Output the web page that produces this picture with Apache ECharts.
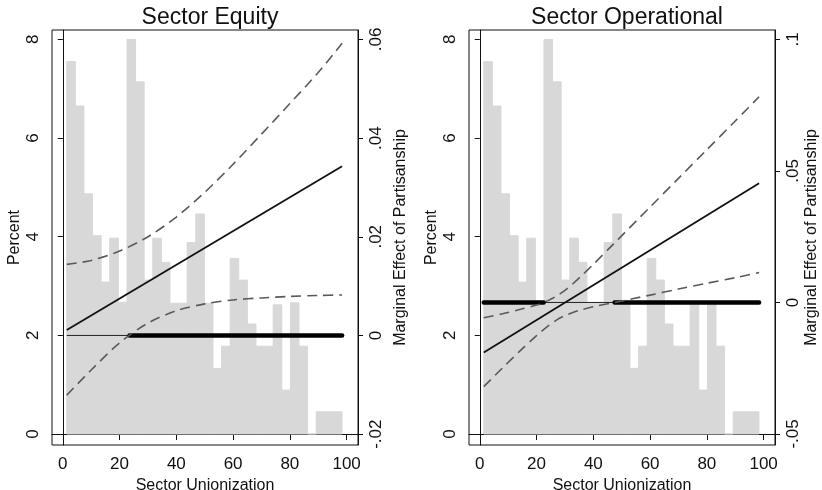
<!DOCTYPE html>
<html>
<head>
<meta charset="utf-8">
<script src="https://cdn.jsdelivr.net/npm/echarts@6/dist/echarts.min.js"></script>
<style>
html,body{margin:0;padding:0;background:#fff;}
#chart{width:822px;height:490px;}
</style>
</head>
<body>
<div id="chart"></div>
<script>
// ---- Data ----
const panelTitles = ['Sector Equity', 'Sector Operational'];
const xTitle = 'Sector Unionization';
const leftTitle = 'Percent';
const rightTitle = 'Marginal Effect of Partisanship';

const xTicks = [0, 20, 40, 60, 80, 100];
const percentTicks = [0, 2, 4, 6, 8];
const equityTicks = [-0.02, 0, 0.02, 0.04, 0.06];
const operationalTicks = [-0.05, 0, 0.05, 0.1];

// Histogram of sector unionization (bin edges and percent per bin)
const binEdges = [1.4, 4.43, 7.46, 10.49, 13.52, 16.55, 19.58, 22.61, 25.64, 28.67, 31.7,
  34.73, 37.76, 40.79, 43.82, 46.85, 49.88, 52.91, 55.94, 58.97, 62.0, 65.03, 68.06,
  71.09, 74.12, 77.15, 80.18, 83.21, 86.24, 89.27, 92.3, 95.33, 98.36];
const binPercent = [7.55, 6.65, 4.87, 4.02, 3.08, 3.97, 2.67, 8.0, 7.14, 3.12, 3.97,
  3.48, 2.65, 2.65, 3.88, 4.46, 2.65, 1.33, 1.78, 3.56, 3.12, 2.23, 1.78, 1.78, 2.62,
  0.89, 2.66, 1.78, 0, 0.45, 0.45, 0.45];

// Sector Equity: marginal effect and 95% CI
const equityEffect = [[1.4, 0.0011], [98.4, 0.0343]];
const equityUpper = [[1.4, 0.0144], [10, 0.0152], [20, 0.0171], [30, 0.0200], [40, 0.0240],
  [50, 0.0290], [60, 0.0347], [70, 0.0408], [80, 0.0470], [90, 0.0533], [98.4, 0.0592]];
const equityLower = [[1.4, -0.0121], [10, -0.0070], [20, -0.0015], [30, 0.0025], [40, 0.0050],
  [50, 0.0064], [60, 0.0072], [70, 0.0076], [80, 0.0079], [90, 0.0081], [98.4, 0.0082]];
const equitySignificant = [[23.5, 98.4]];

// Sector Operational: marginal effect and 95% CI
const operationalEffect = [[1.4, -0.019], [98.4, 0.0453]];
const operationalUpper = [[1.4, -0.0058], [8, -0.0043], [14, -0.0027], [20, -0.0010], [24, 0.0007],
  [27, 0.0024], [30, 0.0046], [33, 0.0073], [36, 0.0103], [40, 0.0145], [47, 0.0221],
  [60, 0.0363], [70, 0.0472], [80, 0.0581], [90, 0.0690], [98.4, 0.0782]];
const operationalLower = [[1.4, -0.0320], [8, -0.0249], [14, -0.0186], [20, -0.0126], [24, -0.0090],
  [27, -0.0067], [30, -0.0050], [33, -0.0037], [36, -0.0027], [40, -0.0016], [47.5, 0.0000],
  [60, 0.0028], [70, 0.0051], [80, 0.0073], [90, 0.0094], [98.4, 0.0114]];
const operationalSignificant = [[1.4, 22.5], [47.5, 98.4]];

const zeroLineRange = [1.4, 98.4];

// ---- Chart ----
const FONT = '"Liberation Sans", Arial, Helvetica, sans-serif';
const chart = echarts.init(document.getElementById('chart'));

const histData = binPercent.map((p, i) => [binEdges[i], binEdges[i + 1], p]);

function statFmt(v) {
  if (Math.abs(v) < 1e-12) return '0';
  const s = String(Math.abs(+v.toFixed(4))).replace(/^0/, '');
  return (v < 0 ? '-' : '') + s;
}

const grids = [
  { left: 52, top: 30, width: 306, height: 415 },
  { left: 469, top: 30, width: 306, height: 415 }
];
const rightRanges = [
  { ticks: equityTicks, min: -0.0222, max: 0.0619, gap: 35 },
  { ticks: operationalTicks, min: -0.0542, max: 0.1036, gap: 29 }
];
const panels = [
  { upper: equityUpper, lower: equityLower, effect: equityEffect, sig: equitySignificant },
  { upper: operationalUpper, lower: operationalLower, effect: operationalEffect, sig: operationalSignificant }
];

const option = {
  animation: false,
  backgroundColor: '#fff',
  title: panelTitles.map((t, i) => ({
    text: t,
    left: grids[i].left + grids[i].width / 2,
    top: 1,
    textAlign: 'center',
    textStyle: { fontFamily: FONT, fontSize: 23, fontWeight: 'normal', color: '#111' }
  })),
  grid: grids.map(g => Object.assign({ show: true, borderColor: '#111', borderWidth: 1, backgroundColor: '#fff',
    containLabel: false, outerBoundsMode: 'none' }, g)),
  xAxis: grids.map((g, i) => ({
    type: 'value', gridIndex: i, min: -3.8, max: 104,
    name: xTitle, nameLocation: 'middle', nameGap: 21,
    nameTextStyle: { fontFamily: FONT, fontSize: 16, color: '#111' },
    axisLine: { show: true, lineStyle: { color: '#111', width: 1 } },
    axisTick: { show: true, length: 6, customValues: xTicks, lineStyle: { color: '#111' } },
    axisLabel: { customValues: xTicks, margin: 11, fontFamily: FONT, fontSize: 17, color: '#111' },
    splitLine: { show: false }
  })),
  yAxis: [].concat(...grids.map((g, i) => [
    {
      type: 'value', gridIndex: i, position: 'left', min: -0.223, max: 8.19,
      name: leftTitle, nameLocation: 'middle', nameGap: 29, nameRotate: 90,
      nameTextStyle: { fontFamily: FONT, fontSize: 16, color: '#111' },
      axisLine: { show: true, lineStyle: { color: '#111', width: 1 } },
      axisTick: { show: true, length: 5, customValues: percentTicks, lineStyle: { color: '#111' } },
      axisLabel: { customValues: percentTicks, rotate: 90, margin: 10, fontFamily: FONT, fontSize: 17, color: '#111' },
      splitLine: { show: false }
    },
    {
      type: 'value', gridIndex: i, position: 'right', min: rightRanges[i].min, max: rightRanges[i].max,
      name: rightTitle, nameLocation: 'middle', nameGap: rightRanges[i].gap, nameRotate: 90,
      nameTextStyle: { fontFamily: FONT, fontSize: 16, color: '#111' },
      axisLine: { show: true, lineStyle: { color: '#111', width: 1 } },
      axisTick: { show: true, length: 5, customValues: rightRanges[i].ticks, lineStyle: { color: '#111' } },
      axisLabel: { customValues: rightRanges[i].ticks, rotate: 90, margin: 10, fontFamily: FONT, fontSize: 17, color: '#111', formatter: statFmt },
      splitLine: { show: false }
    }
  ])),
  series: [].concat(...panels.map((p, i) => {
    const yR = i * 2 + 1;
    const s = [
      {
        type: 'custom', xAxisIndex: i, yAxisIndex: i * 2, data: histData,
        encode: { x: [0, 1], y: 2 }, silent: true,
        renderItem: (params, api) => {
          const a = api.coord([api.value(0), api.value(2)]);
          const b = api.coord([api.value(1), 0]);
          return { type: 'rect', shape: { x: a[0], y: a[1], width: b[0] - a[0], height: b[1] - a[1] },
            style: { fill: '#d8d8d8', stroke: '#d8d8d8', lineWidth: 1 } };
        }
      },
      {
        type: 'line', xAxisIndex: i, yAxisIndex: yR, data: zeroLineRange.map(x => [x, 0]),
        symbol: 'none', lineStyle: { color: '#222', width: 1 }, silent: true
      }
    ];
    p.sig.forEach(r => s.push({
      type: 'line', xAxisIndex: i, yAxisIndex: yR, data: r.map(x => [x, 0]),
      symbol: 'none', lineStyle: { color: '#000', width: 4.5, cap: 'round' }, silent: true
    }));
    s.push(
      { type: 'line', xAxisIndex: i, yAxisIndex: yR, data: p.upper, smooth: 0.3, symbol: 'none',
        lineStyle: { color: '#5a5a5a', width: 1.6, type: [10, 6] }, silent: true },
      { type: 'line', xAxisIndex: i, yAxisIndex: yR, data: p.lower, smooth: 0.3, symbol: 'none',
        lineStyle: { color: '#5a5a5a', width: 1.6, type: [10, 6] }, silent: true },
      { type: 'line', xAxisIndex: i, yAxisIndex: yR, data: p.effect, symbol: 'none',
        lineStyle: { color: '#111', width: 1.8 }, silent: true }
    );
    return s;
  }))
};
chart.setOption(option);
</script>
</body>
</html>
